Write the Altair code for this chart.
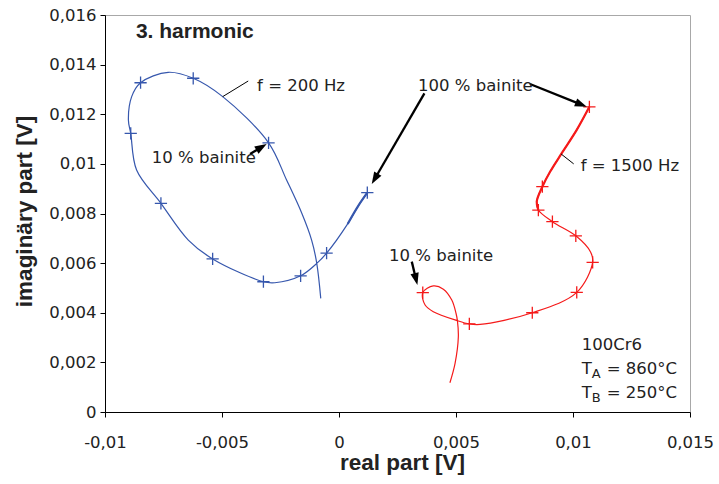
import math
import altair as alt
import pandas as pd

# ---------------- data ----------------
# f = 200 Hz curve (blue), in drawing order
blue_x = [0.00121, 0.00081, 0.00037, -0.00053, -0.00095, -0.00164, -0.00274, -0.00323, -0.0054,
          -0.00644, -0.00761, -0.00865, -0.0089, -0.0090, -0.00886, -0.00848, -0.0073,
          -0.00623, -0.00497, -0.00301, -0.00224, -0.00159, -0.00117, -0.00095, -0.00078]
blue_y = [0.00884, 0.00829, 0.00758, 0.0064, 0.00599, 0.00549, 0.00521, 0.00525, 0.00617,
          0.00693, 0.00841, 0.00975, 0.01123, 0.01177, 0.01271, 0.01327, 0.01369,
          0.01345, 0.01271, 0.01085, 0.00935, 0.00801, 0.00693, 0.00599, 0.00458]
blue_mark_x = [0.00121, -0.00053, -0.00164, -0.00323, -0.0054, -0.00761, -0.0089, -0.00848, -0.00623, -0.00301]
blue_mark_y = [0.00884, 0.0064, 0.00549, 0.00525, 0.00617, 0.00841, 0.01123, 0.01327, 0.01345, 0.01085]

# f = 1500 Hz curve (red), in drawing order
red_x = [0.0107, 0.01016, 0.00952, 0.00902, 0.00869, 0.00845, 0.00852, 0.00912, 0.01012,
         0.01075, 0.01084, 0.01016, 0.00826, 0.00603, 0.00557, 0.00506, 0.00403, 0.00368,
         0.00358, 0.00403, 0.00446, 0.00482, 0.0050, 0.00506, 0.0051, 0.00496, 0.00474]
red_y = [0.0123, 0.01137, 0.01043, 0.00968, 0.00908, 0.00848, 0.00814, 0.00767, 0.0071,
         0.00645, 0.00603, 0.00482, 0.004, 0.00353, 0.00355, 0.00368, 0.00404, 0.00431,
         0.00481, 0.00508, 0.00495, 0.00451, 0.00398, 0.00368, 0.00303, 0.00196, 0.00118]
red_mark_x = [0.0107, 0.00869, 0.00852, 0.00912, 0.01012, 0.01084, 0.01016, 0.00826, 0.00557, 0.00358]
red_mark_y = [0.0123, 0.00908, 0.00814, 0.00767, 0.0071, 0.00603, 0.00482, 0.004, 0.00355, 0.00481]

# number of leading points of each curve drawn with a heavier stroke
blue_thick_n = 3
red_thick_n = 7

x_ticks = [-0.01, -0.005, 0, 0.005, 0.01, 0.015]
y_ticks = [0, 0.002, 0.004, 0.006, 0.008, 0.01, 0.012, 0.014, 0.016]

# arrows: start -> tip
arrow_x1 = [-0.0038, 0.00365, 0.00816, 0.00311]
arrow_y1 = [0.0104, 0.01284, 0.01322, 0.00606]
arrow_x2 = [-0.00309, 0.0014, 0.01059, 0.00335]
arrow_y2 = [0.0108, 0.00919, 0.0123, 0.00512]

# thin leader lines
leader_x1 = [-0.00497, 0.00949]
leader_y1 = [0.01271, 0.0104]
leader_x2 = [-0.00388, 0.01003]
leader_y2 = [0.01334, 0.0100]

label_text = ["f = 200 Hz", "10 % bainite", "100 % bainite", "f = 1500 Hz", "10 % bainite", "100Cr6"]
label_x = [-0.0035, -0.0080, 0.00338, 0.01033, 0.00214, 0.01037]
label_y = [0.01295, 0.01002, 0.01295, 0.00971, 0.00607, 0.0025]

temp_main = ["T", "T"]
temp_sub = ["A", "B"]
temp_rest = ["= 860°C", "= 250°C"]
temp_x = [0.01037, 0.01037]
temp_y = [0.00153, 0.00058]

BLUE = "#3657ad"
RED = "#f51a1a"
TXT = "#222222"
FONT = "DejaVu Sans"
BFONT = "Liberation Sans"

W, H = 585, 397
XD = [-0.01, 0.015]
YD = [0, 0.016]
sx = W / (XD[1] - XD[0])
sy = H / (YD[1] - YD[0])

# ---------------- tables ----------------
curve = pd.DataFrame(
    [dict(s="200", i=i, x=x, y=y) for i, (x, y) in enumerate(zip(blue_x, blue_y))]
    + [dict(s="1500", i=i, x=x, y=y) for i, (x, y) in enumerate(zip(red_x, red_y))]
)
thick = pd.DataFrame(
    [dict(s="200", i=i, x=x, y=y) for i, (x, y) in enumerate(zip(blue_x[:blue_thick_n], blue_y[:blue_thick_n]))]
    + [dict(s="1500", i=i, x=x, y=y) for i, (x, y) in enumerate(zip(red_x[:red_thick_n], red_y[:red_thick_n]))]
)
marks = pd.DataFrame(
    [dict(s="200", x=x, y=y) for x, y in zip(blue_mark_x, blue_mark_y)]
    + [dict(s="1500", x=x, y=y) for x, y in zip(red_mark_x, red_mark_y)]
)

HEAD = 12.0
arows = []
for x1, y1, x2, y2 in zip(arrow_x1, arrow_y1, arrow_x2, arrow_y2):
    dxp = (x2 - x1) * sx
    dyp = -(y2 - y1) * sy
    L = math.hypot(dxp, dyp)
    ang = math.degrees(math.atan2(dxp, -dyp)) % 360
    f = max(0.0, (L - HEAD * 0.6) / L)
    arows.append(dict(x=x1, y=y1, xe=x1 + (x2 - x1) * f, ye=y1 + (y2 - y1) * f,
                      tx=x2, ty=y2, ang=ang))
arrows = pd.DataFrame(arows)
leaders = pd.DataFrame(dict(x=leader_x1, y=leader_y1, xe=leader_x2, ye=leader_y2))
labels = pd.DataFrame(dict(t=label_text, x=label_x, y=label_y))
temps = pd.DataFrame(dict(m=temp_main, sub=temp_sub, r=temp_rest, x=temp_x, y=temp_y))

# ---------------- encodings ----------------
lab_expr = "replace(replace(format(datum.value, '.3~f'), '.', ','), '\u2212', '-')"
xscale = alt.Scale(domain=XD, nice=False, zero=False)
yscale = alt.Scale(domain=YD, nice=False, zero=False)
cscale = alt.Scale(domain=["200", "1500"], range=[BLUE, RED])

X = alt.X("x:Q", scale=xscale, title="real part [V]",
          axis=alt.Axis(values=x_ticks, labelExpr=lab_expr, grid=False, tickSize=5,
                        labelFlush=False, labelOverlap=False, labelPadding=17,
                        labelFontSize=16.5, labelFont=FONT, labelColor=TXT,
                        domainColor="black", tickColor="black",
                        titleFont=BFONT, titleFontSize=22.5, titleFontWeight="bold",
                        titleColor=TXT, titleX=297, titleY=57, titleAlign="center",
                        titleBaseline="alphabetic"))
Y = alt.Y("y:Q", scale=yscale, title="imaginäry part  [V]",
          axis=alt.Axis(values=y_ticks, labelExpr=lab_expr, grid=False, tickSize=5,
                        labelFlush=False, labelOverlap=False, labelPadding=4,
                        labelFontSize=16.5, labelFont=FONT, labelColor=TXT,
                        domainColor="black", tickColor="black",
                        titleFont=BFONT, titleFontSize=22.5, titleFontWeight="bold",
                        titleColor=TXT, titleX=-74, titleY=196, titleAlign="center",
                        titleBaseline="alphabetic", titleAngle=270))

C = alt.Color("s:N", scale=cscale, legend=None)

lines = alt.Chart(curve).mark_line(interpolate="catmull-rom", strokeWidth=1.2).encode(
    x=X, y=Y, color=C, detail="s:N", order=alt.Order("i:Q"))
lines_thick = alt.Chart(thick).mark_line(interpolate="catmull-rom", strokeWidth=2.2).encode(
    x="x:Q", y="y:Q", color=C, detail="s:N", order=alt.Order("i:Q"))
pts = alt.Chart(marks).mark_point(shape="M-1,0L1,0M0,-1L0,1", filled=False, size=150,
                                  strokeWidth=1.3, opacity=1).encode(x="x:Q", y="y:Q", color=C)

arrow_lines = alt.Chart(arrows).mark_rule(color="black", strokeWidth=2.3).encode(
    x="x:Q", y="y:Q", x2="xe:Q", y2="ye:Q")
arrow_heads = alt.Chart(arrows).mark_point(shape="M0,0L0.7,2L-0.7,2Z", filled=True, size=144,
                                           color="black", opacity=1).encode(
    x="tx:Q", y="ty:Q", angle=alt.Angle("ang:Q", scale=None))
leader_lines = alt.Chart(leaders).mark_rule(color="black", strokeWidth=1).encode(
    x="x:Q", y="y:Q", x2="xe:Q", y2="ye:Q")

title_txt = alt.Chart(pd.DataFrame(dict(t=["3. harmonic"], x=[-0.00868], y=[0.01506]))).mark_text(
    align="left", baseline="alphabetic", font=BFONT, fontSize=21, fontWeight="bold", color=TXT
).encode(x="x:Q", y="y:Q", text="t:N")
label_txt = alt.Chart(labels).mark_text(
    align="left", baseline="alphabetic", font=FONT, fontSize=16.5, color=TXT
).encode(x="x:Q", y="y:Q", text="t:N")
t_main = alt.Chart(temps).mark_text(
    align="left", baseline="alphabetic", font=FONT, fontSize=16.5, color=TXT
).encode(x="x:Q", y="y:Q", text="m:N")
t_sub = alt.Chart(temps).mark_text(
    align="left", baseline="alphabetic", font=FONT, fontSize=13, color=TXT, dx=10, dy=4
).encode(x="x:Q", y="y:Q", text="sub:N")
t_rest = alt.Chart(temps).mark_text(
    align="left", baseline="alphabetic", font=FONT, fontSize=16.5, color=TXT, dx=25
).encode(x="x:Q", y="y:Q", text="r:N")

chart = alt.layer(
    lines, lines_thick, pts, leader_lines, arrow_lines, arrow_heads,
    title_txt, label_txt, t_main, t_sub, t_rest
).properties(
    width=W, height=H,
    autosize=alt.AutoSizeParams(type="none"),
    padding={"left": 105, "top": 15, "right": 29, "bottom": 72},
    background="white",
).configure_view(stroke="#a8a8a8", strokeWidth=1)

chart.save("out.html", embed_options={"renderer": "svg", "actions": False})
